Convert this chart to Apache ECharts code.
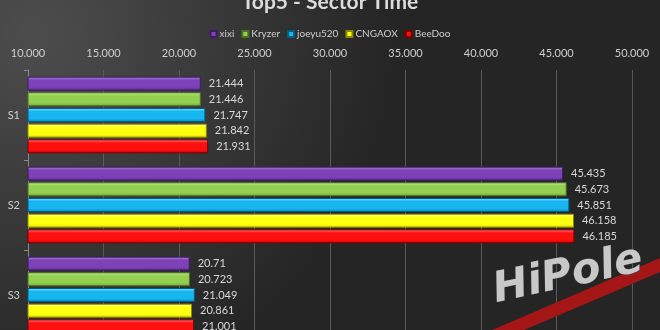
<!DOCTYPE html>
<html><head><meta charset="utf-8">
<script src="https://cdn.jsdelivr.net/npm/echarts@6/dist/echarts.min.js"></script>
<style>html,body{margin:0;padding:0;background:#333}#c{width:660px;height:330px}</style>
</head><body><div id="c"></div>
<script>
const categories = ['S1', 'S2', 'S3'];
const seriesNames = ['xixi', 'Kryzer', 'joeyu520', 'CNGAOX', 'BeeDoo'];
const xixi = [21.444, 45.435, 20.71];
const kryzer = [21.446, 45.673, 20.723];
const joeyu520 = [21.747, 45.851, 21.049];
const cngaox = [21.842, 46.158, 20.861];
const beedoo = [21.931, 46.185, 21.001];
const xTicks = [10, 15, 20, 25, 30, 35, 40, 45, 50];

const values = [xixi, kryzer, joeyu520, cngaox, beedoo];
const palettes = [
  ['#b58ae0', '#7d42b8', '#5b2a8c', '#3e1b63'],
  ['#c8ef9a', '#93d052', '#6ea336', '#4a7222'],
  ['#8be4ff', '#19b5ef', '#0088c0', '#005f88'],
  ['#ffffb0', '#ffff10', '#d8d800', '#8a8a00'],
  ['#ff8a8a', '#ff1010', '#c80000', '#7a0000']
];
const legendColors = ['#7d42b8', '#93d052', '#19b5ef', '#ffff10', '#ff1010'];

const chart = echarts.init(document.getElementById('c'));
chart.setOption({
  backgroundColor: {
    type: 'radial', x: 0.05, y: 0.1, r: 1.1,
    colorStops: [{offset: 0, color: '#4d4d4d'}, {offset: 1, color: '#252525'}]
  },
  animation: false,
  title: {
    text: 'Top5 - Sector Time', left: 'center', top: -13,
    textStyle: {color: '#dcdcdc', fontSize: 21, fontWeight: 'bold', fontFamily: 'Lato'}
  },
  legend: {
    top: 24, left: 'center', itemWidth: 6, itemHeight: 6, itemGap: 7,
    icon: 'rect',
    textStyle: {color: '#cfcfcf', fontSize: 10, fontFamily: 'Lato', padding: [0, 0, 0, -2]},
    data: seriesNames.map((n, i) => ({name: n, itemStyle: {color: legendColors[i]}}))
  },
  grid: {left: 28, right: 28, top: 70, bottom: -10, containLabel: false, outerBoundsMode: 'none'},
  xAxis: {
    type: 'value', position: 'top', min: xTicks[0], max: xTicks[xTicks.length - 1], interval: 5,
    axisLine: {show: false}, axisTick: {show: false},
    axisLabel: {color: '#cfcfcf', fontSize: 11, fontFamily: 'Lato', margin: 11,
      formatter: v => v.toFixed(3)},
    splitLine: {lineStyle: {color: '#5a5a5a', width: 1}}
  },
  yAxis: {
    type: 'category', data: categories, inverse: true,
    axisLine: {show: true, lineStyle: {color: '#8a8a8a'}},
    axisTick: {show: true, length: 4, lineStyle: {color: '#8a8a8a'}},
    axisLabel: {color: '#cfcfcf', fontSize: 11, fontFamily: 'Lato', margin: 8}
  },
  series: seriesNames.map((n, i) => ({
    name: n, type: 'bar', data: values[i], barWidth: 14, barGap: '12%',
    itemStyle: {
      color: {type: 'linear', x: 0, y: 0, x2: 0, y2: 1, colorStops: [
        {offset: 0, color: palettes[i][0]},
        {offset: 0.25, color: palettes[i][1]},
        {offset: 0.75, color: palettes[i][1]},
        {offset: 1, color: palettes[i][2]}
      ]},
      borderColor: palettes[i][3], borderWidth: 1
    },
    label: {show: true, position: 'right', distance: 8, color: '#d8d8d8', fontSize: 11, fontFamily: 'Lato'}
  })),
  graphic: [
    {type: 'polygon', shape: {points: [[492, 330], [660, 258], [660, 272], [524, 330]]},
      style: {fill: '#a51616'}, z: 100},
    {type: 'text', x: 498, y: 312, rotation: 0.21,
      style: {text: 'HiPole', fill: '#c8c8c8', font: 'italic bold 42px "DejaVu Sans"',
        stroke: '#333', lineWidth: 1, shadowBlur: 2, shadowColor: '#000', shadowOffsetX: 1, shadowOffsetY: 1,
        textVerticalAlign: 'bottom'}, z: 101}
  ]
});
</script></body></html>
